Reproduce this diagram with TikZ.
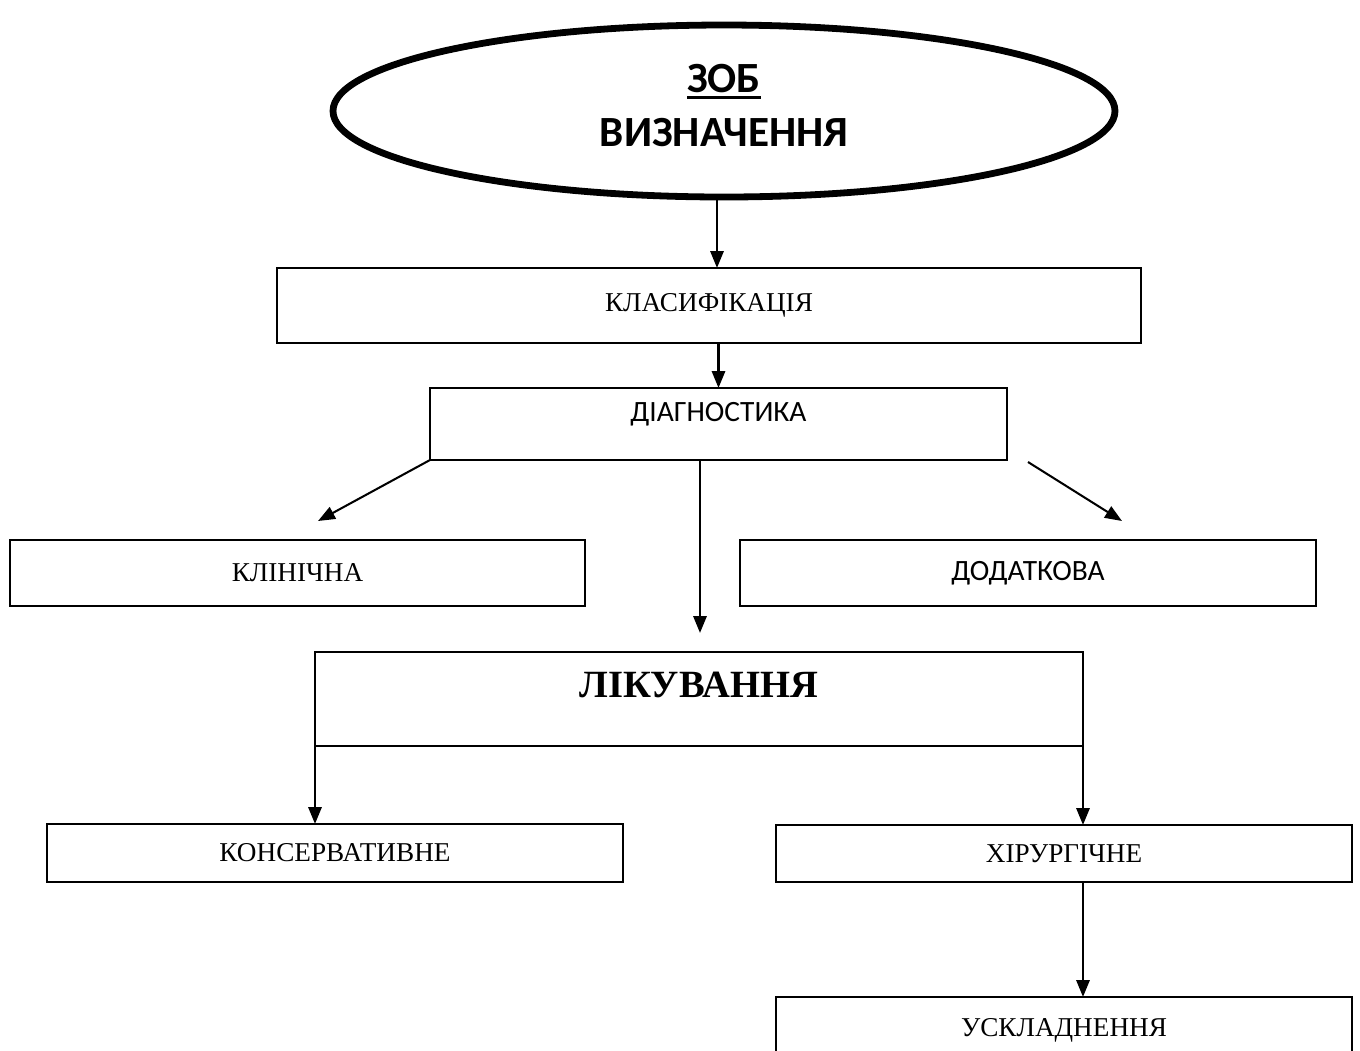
\documentclass[tikz,border=0pt]{standalone}
\usepackage{fontspec}
\setmainfont{Liberation Serif}
\newfontfamily\calibfont{Carlito}
\usetikzlibrary{arrows.meta,positioning,calc,shapes.geometric}
\newcommand{\thickul}[1]{\vtop{\hbox{#1}\kern1.4pt\hrule height 1.5pt}}
\tikzset{
  >={Triangle[length=7.5pt,width=5.8pt]},
  boxsize/.style 2 args={minimum width=#1*0.0155cm, minimum height=#2*0.0155cm},
  box/.style={draw=black, line width=0.9pt, fill=white, inner sep=0pt,
              outer sep=0pt, align=center, font=\fontsize{12}{14}\selectfont},
  sansbox/.style={box, font=\calibfont\fontsize{13}{15}\selectfont},
  titleoval/.style={ellipse, draw=black, line width=3pt, fill=white,
                    inner sep=0pt, outer sep=0pt, align=center,
                    font=\calibfont\bfseries\fontsize{19}{22}\selectfont},
  link/.style={->, draw=black, line width=1.2pt},
  slant/.style={->, draw=black, line width=0.9pt}
}

\begin{document}
\begin{tikzpicture}[x=0.0155cm, y=-0.0155cm]
\useasboundingbox (0,0) rectangle (1360,1050);

% ------------------------------------------------------------
% TOP: definition oval and the first two stages
% ------------------------------------------------------------
\node[titleoval, boxsize={782}{172}, text depth=5pt] (zob) at (724,111)
{\thickul{ЗОБ}\\[2pt] ВИЗНАЧЕННЯ};

\node[box, boxsize={864}{75}] (klas) at (709,305.5) {КЛАСИФІКАЦІЯ};
\node[sansbox, boxsize={577}{72}, text height=8pt, text depth=10pt]
      (diag) at (718.5,424) {ДІАГНОСТИКА};

\coordinate (zobFoot) at ($(zob.south)+(-7,0)$);
\draw[link] (zobFoot) -- (zobFoot |- klas.north);
\draw[link] (diag.north |- klas.south) -- (diag.north);

% ------------------------------------------------------------
% DIAGNOSTICS: clinical / additional
% ------------------------------------------------------------
\node[box, boxsize={575}{66}] (klin) at (297.5,573) {КЛІНІЧНА};
\node[sansbox, boxsize={576}{66}] (dod) at (1028,573) {ДОДАТКОВА};

\coordinate (klinTip) at (318,521);
\coordinate (dodTail) at (1028,462);
\coordinate (dodTip)  at (1122,521);
\draw[slant] (diag.south west) -- (klinTip);
\draw[slant] (dodTail) -- (dodTip);

% ------------------------------------------------------------
% TREATMENT
% ------------------------------------------------------------
\node[box, boxsize={768}{94}, text height=12pt, text depth=13pt,
      font=\bfseries\fontsize{17}{19}\selectfont] (lik) at (699,699)
{ЛІКУВАННЯ};

\coordinate (likTip) at (700,633);
\draw[link] (likTip |- diag.south) -- (likTip);

\node[box, boxsize={576}{58}] (konz) at (335,853) {КОНСЕРВАТИВНЕ};
\node[box, boxsize={576}{57}] (khir) at (1064,853.5) {ХІРУРГІЧНЕ};
\node[box, boxsize={576}{66}] (uskl) at (1064,1030) {УСКЛАДНЕННЯ};

\draw[link] (lik.south west) -- (lik.south west |- konz.north);
\draw[link] (lik.south east) -- (lik.south east |- khir.north);
\draw[link] (lik.south east |- khir.south) -- (lik.south east |- uskl.north);

\end{tikzpicture}
\end{document}
